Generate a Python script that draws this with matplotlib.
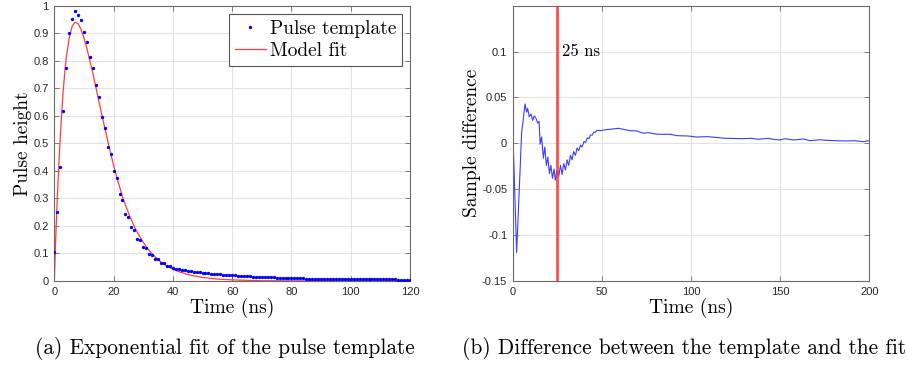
import matplotlib
matplotlib.use("Agg")
import matplotlib.pyplot as plt
import numpy as np

plt.rcParams['axes.unicode_minus'] = False

# ---------------- data ----------------
# Pulse template samples (1 ns spacing, 0..120 ns)
template_t = list(range(0, 121))
template_v = [
    0.107, 0.249, 0.414, 0.619, 0.774, 0.900, 0.953, 0.982, 0.966, 0.947,
    0.904, 0.867, 0.815, 0.774, 0.713, 0.668, 0.594, 0.557, 0.487, 0.461,
    0.398, 0.374, 0.315, 0.293, 0.245, 0.233, 0.195, 0.185, 0.154, 0.148,
    0.123, 0.120, 0.098, 0.096, 0.081, 0.080, 0.067, 0.064, 0.056, 0.053,
    0.048, 0.044, 0.043, 0.041, 0.039, 0.037, 0.036, 0.034, 0.033, 0.032,
    0.030, 0.029, 0.028, 0.027, 0.026, 0.025, 0.024, 0.023, 0.022, 0.022,
    0.021, 0.020, 0.019, 0.019, 0.018, 0.017, 0.017, 0.016, 0.016, 0.015,
    0.015, 0.014, 0.014, 0.013, 0.013, 0.012, 0.012, 0.012, 0.011, 0.011,
    0.011, 0.010, 0.010, 0.010, 0.010, 0.009, 0.009, 0.009, 0.009, 0.009,
    0.008, 0.008, 0.008, 0.008, 0.008, 0.008, 0.008, 0.007, 0.007, 0.007,
    0.007, 0.007, 0.007, 0.007, 0.007, 0.006, 0.006, 0.006, 0.006, 0.006,
    0.006, 0.006, 0.006, 0.006, 0.006, 0.006, 0.005, 0.005, 0.005, 0.005,
    0.005,
]

# Model fit curve
fit_t = [0, 0.5, 1, 1.5, 2, 2.5, 3, 3.5, 4, 5, 6, 7, 8, 9, 10, 11, 12, 13, 14,
         15, 16, 17, 18, 19, 20, 21, 22, 23, 24, 25, 26, 27, 28, 29, 30, 31,
         32, 33, 34, 35, 36, 37, 38, 39, 40, 42, 44, 46, 48, 50, 55, 60, 70,
         80, 100, 120]
fit_v = [0.0, 0.16, 0.30, 0.42, 0.52, 0.61, 0.69, 0.755, 0.81, 0.88, 0.925,
         0.94, 0.935, 0.915, 0.883, 0.845, 0.80, 0.755, 0.705, 0.655, 0.605,
         0.558, 0.51, 0.465, 0.42, 0.38, 0.343, 0.305, 0.277, 0.248, 0.222,
         0.198, 0.177, 0.158, 0.141, 0.125, 0.111, 0.099, 0.088, 0.078, 0.069,
         0.061, 0.054, 0.048, 0.043, 0.034, 0.027, 0.021, 0.017, 0.013, 0.007,
         0.004, 0.001, 0.0005, 0.0, 0.0]

# Difference between template and fit
diff_t = [0, 0.3, 2.2, 5.0, 6.9, 7.8, 8.4, 9.3, 10.3, 11.2, 12.1, 13.1, 14.0,
          14.8, 15.4, 16.2, 17.2, 18.0, 18.9, 19.7, 20.6, 21.4, 22.3, 23.2,
          23.9, 24.8, 25.8, 26.8, 27.7, 28.6, 29.6, 30.5, 31.4, 32.4, 33.3,
          34.2, 35.2, 36.1, 37.0, 38.0, 38.9, 40.0, 40.9, 41.8, 42.7, 43.6,
          44.5, 45.4, 46.3, 47.2, 48.1, 49.0, 52.7, 55.5, 59.2, 62.1, 65.8,
          69.6, 73.3, 76.1, 79.8, 83.6, 88.3, 92.0, 98.5, 103.2, 108.8, 113.5,
          119.1, 124.7, 128.4, 134.0, 137.8, 143.4, 146.2, 149.9, 152.7, 157.4,
          163.0, 166.8, 172.4, 176.1, 180.8, 186.4, 192.0, 196.7, 199.5, 200.0]
diff_v = [0.136, 0.0, -0.119, 0.011, 0.043, 0.034, 0.038, 0.029, 0.032, 0.025,
          0.030, 0.027, 0.022, 0.024, -0.001, 0.007, -0.016, -0.004, -0.024,
          -0.015, -0.033, -0.024, -0.038, -0.028, -0.040, -0.030, -0.036,
          -0.024, -0.034, -0.022, -0.029, -0.018, -0.024, -0.013, -0.018,
          -0.009, -0.013, -0.005, -0.008, -0.002, -0.004, 0.002, 0.001, 0.006,
          0.005, 0.009, 0.009, 0.012, 0.012, 0.014, 0.014, 0.0138, 0.0150,
          0.0155, 0.0164, 0.0153, 0.0138, 0.0135, 0.0110, 0.0117, 0.0102,
          0.0099, 0.0099, 0.0084, 0.0080, 0.0069, 0.0073, 0.0066, 0.0055,
          0.0053, 0.0051, 0.0055, 0.0044, 0.0055, 0.0044, 0.0037, 0.0051,
          0.0037, 0.0047, 0.0029, 0.0040, 0.0033, 0.0029, 0.0026, 0.0029,
          0.0018, 0.0029, 0.0028]

marker_time = 25
marker_label = "25 ns"

left_xticks = [0, 20, 40, 60, 80, 100, 120]
left_yticks = [0, 0.1, 0.2, 0.3, 0.4, 0.5, 0.6, 0.7, 0.8, 0.9, 1]
left_yticklabels = ['0', '0.1', '0.2', '0.3', '0.4', '0.5', '0.6', '0.7', '0.8', '0.9', '1']
right_xticks = [0, 50, 100, 150, 200]
right_yticks = [-0.15, -0.1, -0.05, 0, 0.05, 0.1]
right_yticklabels = ['-0.15', '-0.1', '-0.05', '0', '0.05', '0.1']

caption_a = "(a) Exponential fit of the pulse template"
caption_b = "(b) Difference between the template and the fit"

# ---------------- figure ----------------
W, H = 907, 369
fig = plt.figure(figsize=(W / 100, H / 100), dpi=100)

serif = 'cmr10'
tickfont = 'Liberation Sans'
spine_col = '#6a6a6a'


def style(ax):
    for s in ax.spines.values():
        s.set_color(spine_col)
        s.set_linewidth(0.8)
    ax.tick_params(direction='in', length=3.5, width=0.6, color=spine_col,
                   top=True, right=True, labelsize=8, labelcolor='#262626',
                   pad=4)
    for lab in ax.get_xticklabels() + ax.get_yticklabels():
        lab.set_fontfamily(tickfont)
    ax.grid(True, color='#e3e3e3', linewidth=0.8)
    ax.set_axisbelow(True)


def px_axes(x0, x1, y0, y1):
    return fig.add_axes([x0 / W, 1 - y1 / H, (x1 - x0) / W, (y1 - y0) / H])


# left panel
ax1 = px_axes(54.3, 410, 5.7, 281)
ax1.plot(fit_t, fit_v, color='#ff3c3c', linewidth=0.9, label='Model fit', zorder=2)
ax1.plot(template_t, template_v, linestyle='none', marker='.', markersize=2.8,
         color='#0000ff', label='Pulse template', zorder=3)
ax1.set_xlim(0, 120)
ax1.set_ylim(0, 1)
ax1.set_xticks(left_xticks)
ax1.set_yticks(left_yticks)
ax1.set_yticklabels(left_yticklabels)
style(ax1)
ax1.set_xlabel('Time (ns)', fontfamily=serif, fontsize=14, labelpad=1)
ax1.set_ylabel('Pulse height', fontfamily=serif, fontsize=14, labelpad=1)
handles, labels = ax1.get_legend_handles_labels()
leg = ax1.legend(handles[::-1], labels[::-1], loc='upper right',
                 bbox_to_anchor=(0.977, 0.971), prop={'family': serif, 'size': 14},
                 fancybox=False, framealpha=1, edgecolor='#555555',
                 borderpad=0.3, handlelength=1.6, handletextpad=0.2,
                 labelspacing=0.25, borderaxespad=0, markerscale=1.0)
leg.get_frame().set_linewidth(0.8)

# right panel
ax2 = px_axes(512.7, 869.3, 5.7, 281)
ax2.plot(diff_t, diff_v, color='#3c3cff', linewidth=0.8, zorder=2)
ax2.axvline(marker_time, color='#ff3030', linewidth=2.0, alpha=0.85, zorder=3)
ax2.text(marker_time + 2.5, 0.100, marker_label, fontfamily=serif, fontsize=12,
         va='center', ha='left')
ax2.set_xlim(0, 200)
ax2.set_ylim(-0.15, 0.15)
ax2.set_xticks(right_xticks)
ax2.set_yticks(right_yticks)
ax2.set_yticklabels(right_yticklabels)
style(ax2)
ax2.set_xlabel('Time (ns)', fontfamily=serif, fontsize=14, labelpad=1)
ax2.set_ylabel('Sample difference', fontfamily=serif, fontsize=14, labelpad=1)

fig.text(225 / W, 1 - 349 / H, caption_a, fontfamily=serif, fontsize=15.4,
         ha='center', va='center')
fig.text(684 / W, 1 - 349 / H, caption_b, fontfamily=serif, fontsize=15.4,
         ha='center', va='center')

fig.savefig('out.png', dpi=100)
